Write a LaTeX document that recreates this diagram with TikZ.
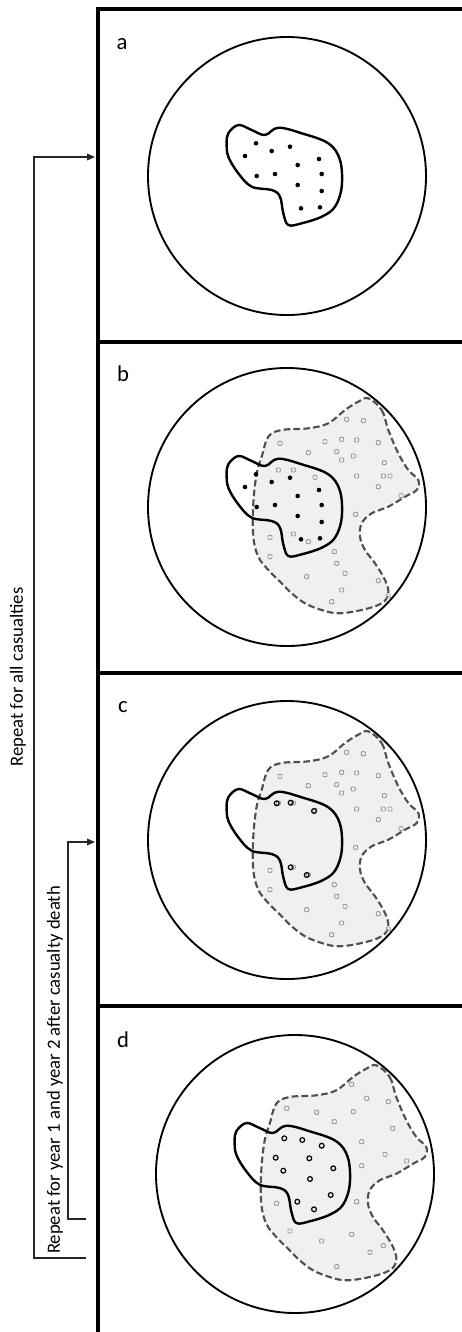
\documentclass[tikz,border=0pt]{standalone}
\usepackage{fontspec}
\setmainfont{Carlito}
\usetikzlibrary{arrows.meta}
\definecolor{zonefill}{HTML}{F0F0F0}
\definecolor{zonedash}{HTML}{505050}
\definecolor{markgray}{HTML}{A0A0A0}

\tikzset{
  frameline/.style={line width=2.3pt},
  siteline/.style={line width=1.4pt},
  blobline/.style={line width=1.8pt},
  zoneline/.style={draw=zonedash, fill=zonefill, line width=1.6pt, dash pattern=on 5pt off 2.4pt},
  loopline/.style={line width=1pt, draw=black!85},
  loopnote/.style={rotate=90, inner sep=0pt, font=\fontsize{14}{16}\selectfont},
  paneltag/.style={inner sep=0pt, font=\fontsize{17}{19}\selectfont},
  marker/.style={draw=markgray, line width=0.7pt},
  regionblob/.pic={
    \draw[blobline] plot[smooth cycle, tension=0.6] coordinates {
      (-58.7,-42.7) (-48.7,-51) (-35.3,-46) (-22,-41) (-8.7,-48.3) (14.7,-42.7)
      (41.3,-32.7) (53,-16) (54.7,10.7) (48,30.7) (34.7,40.7) (14.7,47.3)
      (1.3,49) (-3.7,37.3) (-7,20.7) (-15.3,14) (-35.3,10.7) (-48.7,-2.7)
      (-58.7,-19.3) (-60.3,-32.7)};
  },
  spreadzone/.pic={
    \draw[zoneline] plot[smooth cycle, tension=0.6] coordinates {
      (81.3,-108.7) (94.7,-97) (101.3,-77) (111.3,-53.7) (121.3,-37) (131.3,-27)
      (129.7,-17) (118,-10.3) (101.3,-0.3) (84.7,6.3) (74.7,16.3) (73,29.7)
      (78,43) (88,56.3) (98,73) (101.3,86.3) (94.7,96.3) (74.7,103)
      (51.3,106.3) (34.7,103) (18,96.3) (4.7,86.3) (-5.3,76.3) (-18.7,63)
      (-28.7,49.7) (-33.7,29.7) (-33.7,-3.7) (-30.3,-33.7) (-25.3,-50.3) (-18.7,-70.3)
      (-5.3,-77) (21.3,-78.7) (41.3,-83.7) (58,-97) (71.3,-105.3)};
  },
  earlymarks/.pic={
    \foreach \mx/\my in {-7/-63.7, 38/-65.3, 54.7/-67.7, 69.7/-67, 91.3/-64.3,
      49.7/-55.3, 66.3/-51, 54.7/-47, 97.3/-44.3, 21.3/-54.3, 69.7/-31,
      96.3/-31, 103/-31, 28/-29.7, 6.3/-37, -8.7/-37, 91.3/-20.3, 114/-11.3,
      68.7/7.3, -17/30.3, 6.3/27, 21.3/34.7, -17/49.7, 47.3/44.7, 49.7/56.3,
      58/66.3, 19.7/69.7, 91.3/73.7, 54.7/83, 44.7/94.7, 101.3/89,
      59.7/-87.7, 76.3/-86.3}
      \draw[marker, rounded corners=0.6pt] (\mx-2,\my-2) rectangle (\mx+2,\my+2);
  },
  latemarks/.pic={
    \foreach \mx/\my in {-8.3/-65.7, 21.7/-61.7, 39.3/-52.3, 58.3/-62.3,
      71.7/-75.7, 56.7/-89.7, 93.3/-72.3, 97.7/-45.7, 66.7/-32.3, 90/-19.7,
      111.7/-13, 66.7/-8.3, -18.3/29.3, 61.7/27.7, -5/57, 26.7/67, 56.7/60.3,
      75/78.3, 88.3/71.7, 41.7/92.7}
      \draw[marker, rounded corners=0.6pt] (\mx-2,\my-2) rectangle (\mx+2,\my+2);
  },
  livedots/.pic={
    \foreach \mx/\my in {-31/-32.7, -42/-20, -15.3/-25, 3/-29.3, 10.7/-11,
      32/-17, -30.3/0, -12/-2, 34.7/-2, 10.7/9, 34.7/15, 14/32.3, 33/31.3}
      \fill (\mx,\my) circle[radius=2.3];
  }
}

\begin{document}
\begin{tikzpicture}[x=0.75pt, y=-0.75pt]
  \useasboundingbox (0,0) rectangle (461,1332);

  % panel frame
  \draw[frameline] (98,1333) -- (98,9) -- (462,9);
  \foreach \dy in {342,673,1006}
    \draw[frameline] (98,\dy) -- (462,\dy);

  % a
  \node[paneltag] (tagA) at (122,44) {a};
  \pic at (287,176) {regionblob};
  \pic at (287,176) {livedots};
  \draw[siteline] (287,176) circle[radius=139];

  % b
  \node[paneltag] (tagB) at (123,374) {b};
  \pic at (287,507) {spreadzone};
  \pic at (287,507) {earlymarks};
  \pic at (287,507) {regionblob};
  \pic at (287,507) {livedots};
  \draw[siteline] (287,507) circle[radius=139];

  % c
  \node[paneltag] (tagC) at (123,707) {c};
  \pic at (287,840) {spreadzone};
  \pic at (287,840) {earlymarks};
  \pic at (287,840) {regionblob};
  \foreach \mx/\my in {-10.3/-36.7, 3.7/-37.3, 27/-29, 3.7/27.3, 19.7/35}
    \draw[line width=0.9pt] (287+\mx,840+\my) circle[radius=2.4];
  \draw[siteline] (287,840) circle[radius=139];

  % d
  \node[paneltag] (tagD) at (123,1040) {d};
  \pic at (295,1174) {spreadzone};
  \pic at (295,1174) {latemarks};
  \pic at (295,1174) {regionblob};
  \foreach \mx/\my in {-10.7/-35.7, 7.3/-34, 26.7/-28.3, -19.3/-16.3, 14.3/-15.7,
    -11.7/-3.3, 38.3/-5.7, 15/5, 35.7/21, 2.3/27.7, 19/35.3}
    \draw[line width=0.9pt] (295+\mx,1174+\my) circle[radius=2.4];
  \draw[siteline] (295,1174) circle[radius=139];

  % repeat loops
  \coordinate (outerFoot) at (86,1258);
  \coordinate (outerCorner) at (34,157);
  \coordinate (entryA) at (95,157);
  \coordinate (innerFoot) at (86,1219);
  \coordinate (innerCorner) at (68,842);
  \coordinate (entryC) at (95,842);
  \draw[loopline, -{Triangle[length=6pt,width=5pt]}] (outerFoot) -| (outerCorner) -- (entryA);
  \draw[loopline, -{Triangle[length=6pt,width=5pt]}] (innerFoot) -| (innerCorner) -- (entryC);
  \node[loopnote] (noteAll) at (18,677) {Repeat for all casualties};
  \node[loopnote] (noteYear) at (55,1070) {Repeat for year 1 and year 2 after casualty death};
\end{tikzpicture}
\end{document}
